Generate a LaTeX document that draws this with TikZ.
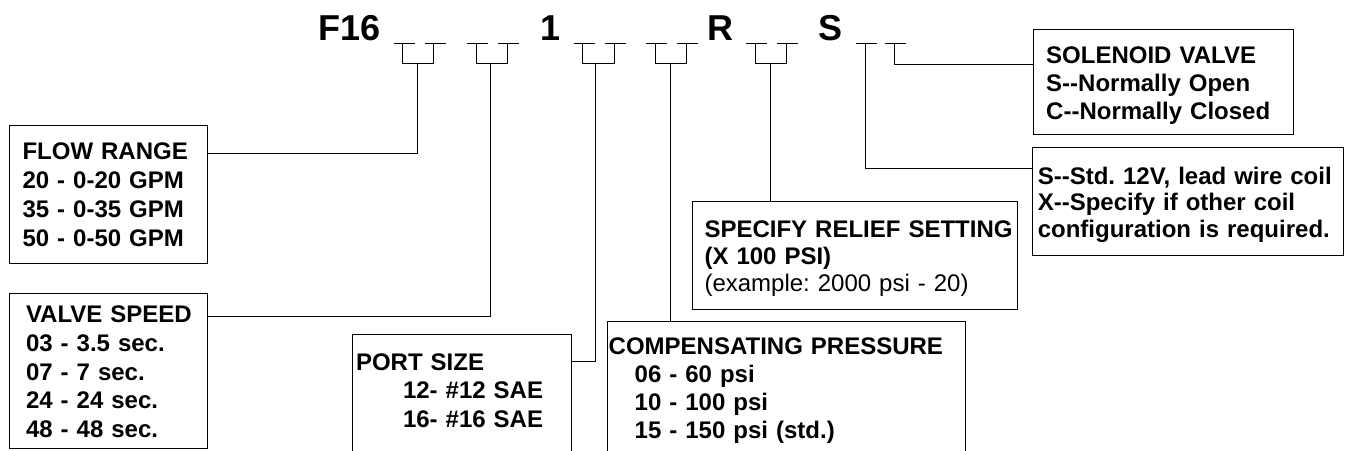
\documentclass[tikz,border=0pt]{standalone}
\usepackage{fontspec}
\setmainfont{Liberation Sans}
\usetikzlibrary{calc}
\frenchspacing

\newcommand{\dd}{-\kern0pt-}

\tikzset{
  box/.style={draw, anchor=north west, inner sep=0pt},
  boxtext/.style={anchor=base west, inner sep=0pt, text width=340pt, align=left,
    font=\bfseries\fontsize{24}{#1}\selectfont},
  code/.style={anchor=base, inner sep=0pt, font=\bfseries\fontsize{36}{40}\selectfont}
}

\begin{document}
\begin{tikzpicture}[x=1pt, y=-1pt, line width=1pt]
\useasboundingbox (0,0) rectangle (1346,450);

% model number
\node[code, anchor=base west] (f16) at (318,40) {F16};
\node[code] (one) at (550.5,40) {1};
\node[code] (r) at (720.3,40) {R};
\node[code] (s) at (830.5,40) {S};

% blanks with brackets
\foreach \a/\b/\m/\n in {402.5/433.5/417/p1, 476/507/490.5/p2, 582.5/614/595.5/p3, 655/686/670.7/p4, 755/786/770.7/p5}{
  \draw (\a-9,43.3) -- (\a+12,43.3);
  \draw (\b-9,43.3) -- (\b+12,43.3);
  \draw (\a,43.3) -- (\a,63.3) -- (\b,63.3) -- (\b,43.3);
  \coordinate (\n) at (\m,63.3);
}
\draw (856,43.3) -- (877,43.3);
\draw (885,43.3) -- (906,43.3);
\coordinate (t1) at (865,43.3);
\coordinate (t2) at (894.3,43.3);

% option boxes
\node[box, minimum width=197.7pt, minimum height=137.5pt] (flow) at (9,125) {};
\node[boxtext=29.1pt] (flowtxt) at (22,159.3) {FLOW RANGE\\20 - 0-20 GPM\\35 - 0-35 GPM\\50 - 0-50 GPM};

\node[box, minimum width=197.7pt, minimum height=155pt] (valve) at (9,293.3) {};
\node[boxtext=28.75pt] (valvetxt) at (25.5,322.7) {VALVE SPEED\\03 - 3.5 sec.\\07 - 7 sec.\\24 - 24 sec.\\48 - 48 sec.};

\node[box, draw=none, minimum width=217.7pt, minimum height=120pt] (port) at (352.3,334.3) {};
\draw (port.south west) -- (port.north west) -- (port.north east) -- (port.south east);
\node[boxtext=28.65pt] (porttxt) at (355.5,370) {PORT SIZE\\\hspace*{47pt}12- \#12 SAE\\\hspace*{47pt}16- \#16 SAE};

\node[box, draw=none, minimum width=356.6pt, minimum height=130pt] (comp) at (607.7,321.7) {};
\draw (comp.south west) -- (comp.north west) -- (comp.north east) -- (comp.south east);
\node[boxtext=28.1pt] (comptxt) at (608.2,354) {COMPENSATING PRESSURE\\\hspace*{26pt}06 - 60 psi\\\hspace*{26pt}10 - 100 psi\\\hspace*{26pt}15 - 150 psi (std.)};

\node[box, minimum width=325pt, minimum height=108.6pt] (relief) at (692.3,200.7) {};
\node[boxtext=27.3pt] (relieftxt) at (704,237) {SPECIFY RELIEF SETTING\\(X 100 PSI)\\{\mdseries (example: 2000 psi - 20)}};

\node[box, minimum width=260.6pt, minimum height=105pt] (sol) at (1032.7,29.3) {};
\node[boxtext=28.2pt] (soltxt) at (1045.7,63.3) {SOLENOID VALVE\\S\dd Normally Open\\C\dd Normally Closed};

\node[box, minimum width=311.6pt, minimum height=108.3pt] (coil) at (1031.7,146.7) {};
\node[boxtext=26.5pt] (coiltxt) at (1037.3,184.3) {S\dd Std. 12V, lead wire coil\\X\dd Specify if other coil\\configuration is required.};

% leaders
\draw (p1) |- ([yshift=-28.3pt]flow.north east);
\draw (p2) |- ([yshift=-23.4pt]valve.north east);
\draw (p3) |- ([yshift=-27.4pt]port.north east);
\draw (p4) -- (p4 |- comp.north);
\draw (p5) -- (p5 |- relief.north);
\draw (t1) |- ([yshift=-21.6pt]coil.north west);
\draw (t2) |- ([yshift=-35pt]sol.north west);
\end{tikzpicture}
\end{document}
